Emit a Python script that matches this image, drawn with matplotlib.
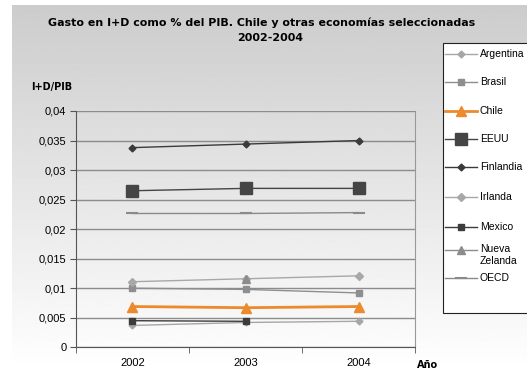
import numpy as np
import matplotlib
matplotlib.use("Agg")
import matplotlib.pyplot as plt
from matplotlib.lines import Line2D
from matplotlib.patches import Rectangle

plt.rcParams["font.family"] = ["Liberation Sans", "DejaVu Sans"]

years = ["2002", "2003", "2004"]
argentina = [0.0037, 0.0042, 0.0044]
brasil = [0.0100, 0.0098, 0.0092]
chile = [0.0069, 0.0067, 0.0069]
eeuu = [0.0265, 0.0269, 0.0269]
finlandia = [0.0338, 0.0344, 0.0350]
irlanda = [0.0111, 0.0116, 0.0121]
mexico = [0.0045, 0.0044, np.nan]
nueva_zelanda = [np.nan, 0.0115, np.nan]
oecd = [0.02265, 0.02265, 0.0228]

y_ticks = [0, 0.005, 0.01, 0.015, 0.02, 0.025, 0.03, 0.035, 0.04]
y_tick_labels = ["0", "0,005", "0,01", "0,015", "0,02", "0,025", "0,03", "0,035", "0,04"]

W, H = 527, 370
fig = plt.figure(figsize=(W / 100, H / 100), dpi=100)

# grey-to-white vertical gradient behind everything (thin white margin top/left)
bg = fig.add_axes([12 / W, 0, 1 - 12 / W, 1 - 5 / H], zorder=-10)
grad = np.linspace(0.80, 1.0, 256).reshape(-1, 1)
bg.imshow(grad, cmap="gray", vmin=0, vmax=1, aspect="auto", extent=[0, 1, 1, 0])
bg.axis("off")

ax = fig.add_axes([0.1442, 0.0614, 0.6433, 0.6386])
ax.patch.set_alpha(0)
x = np.arange(len(years))

series = [
    ("Argentina", argentina, dict(color="#a6a6a6", marker="D", ms=3.5, lw=1.0)),
    ("Brasil", brasil, dict(color="#8e8e8e", marker="s", ms=5, lw=1.0)),
    ("Chile", chile, dict(color="#ec8a2e", marker="^", ms=7, lw=2.0)),
    ("EEUU", eeuu, dict(color="#454545", marker="s", ms=8.5, lw=1.0)),
    ("Finlandia", finlandia, dict(color="#3a3a3a", marker="D", ms=3.5, lw=1.0)),
    ("Irlanda", irlanda, dict(color="#a8a8a8", marker="D", ms=4, lw=1.0)),
    ("Mexico", mexico, dict(color="#3c3c3c", marker="s", ms=5, lw=1.0)),
    ("Nueva\nZelanda", nueva_zelanda, dict(color="#8c8c8c", marker="^", ms=5.5, lw=1.0)),
    ("OECD", oecd, dict(color="#8a8a8a", marker="_", ms=8, mew=1.5, lw=1.0)),
]
for name, vals, style in series:
    ax.plot(x, vals, label=name, zorder=3, **style)

ax.set_xlim(-0.5, 2.5)
ax.set_ylim(0, 0.04)
ax.set_yticks(y_ticks)
ax.set_yticklabels(y_tick_labels)
ax.set_xticks(x)
ax.set_xticklabels(years)
ax.set_xticks([-0.5, 0.5, 1.5, 2.5], minor=True)
ax.tick_params(axis="x", which="major", length=0, pad=8, labelsize=8)
ax.tick_params(axis="x", which="minor", length=4, color="#555555", direction="out")
ax.tick_params(axis="y", length=4, color="#555555", labelsize=8, pad=3)
ax.yaxis.grid(True, color="#8c8c8c", lw=1.0)
ax.set_axisbelow(True)
for side in ["left", "bottom"]:
    ax.spines[side].set_color("#555555")
ax.spines["right"].set_color("#999999")
ax.spines["top"].set_visible(False)

fig.text(0.497, 0.939, "Gasto en I+D como % del PIB. Chile y otras economías seleccionadas",
         ha="center", va="center", fontsize=7.9, fontweight="bold", family="DejaVu Sans")
fig.text(0.512, 0.898, "2002-2004", ha="center", va="center", fontsize=7.9,
         fontweight="bold", family="DejaVu Sans")
fig.text(0.059, 0.765, "I+D/PIB", ha="left", va="center", fontsize=7,
         fontweight="bold", family="DejaVu Sans")
fig.text(0.791, 0.014, "Año", ha="left", va="center", fontsize=7,
         fontweight="bold", family="DejaVu Sans")

# legend box, running past the right edge of the figure
fig.patches.append(Rectangle((443 / W, 1 - 313 / H), 100 / W, 270 / H,
                             transform=fig.transFigure, facecolor="white",
                             edgecolor="#222222", lw=0.8, zorder=5))
entry_y = [54, 82, 111, 139, 167, 197, 227, 250, 278]
for (name, vals, style), yp in zip(series, entry_y):
    yf = 1 - yp / H
    fig.lines.append(Line2D([445 / W, 477 / W], [yf, yf], transform=fig.transFigure,
                            color=style["color"], lw=style["lw"], zorder=6))
    fig.lines.append(Line2D([461 / W], [yf], transform=fig.transFigure,
                            color=style["color"], marker=style["marker"],
                            ms=style["ms"], mew=style.get("mew", 1.0), zorder=6))
    if "\n" in name:
        fig.text(480 / W, yf + 6 / H, name, ha="left", va="top", fontsize=7.5,
                 linespacing=1.2, zorder=7)
    else:
        fig.text(480 / W, yf, name, ha="left", va="center", fontsize=7.5, zorder=7)

fig.savefig("out.png", dpi=100)
